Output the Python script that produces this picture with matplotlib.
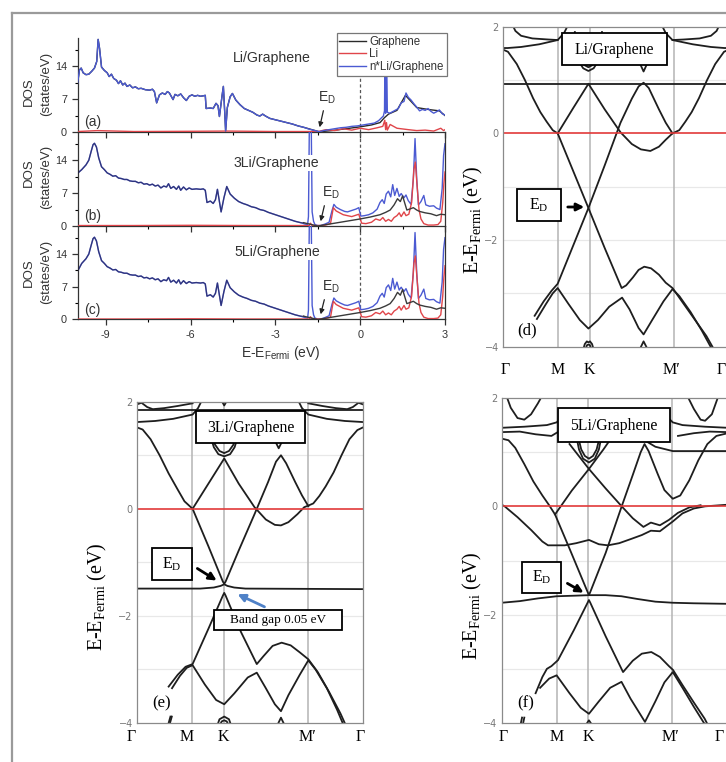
import matplotlib
matplotlib.use("Agg")
import matplotlib.pyplot as plt
from matplotlib.patches import Rectangle, FancyArrowPatch
from matplotlib.lines import Line2D
from matplotlib.transforms import ScaledTranslation, blended_transform_factory

plt.rcParams['mathtext.fontset'] = 'custom'
plt.rcParams['mathtext.rm'] = 'Liberation Serif'
plt.rcParams['mathtext.sf'] = 'Liberation Sans'
plt.rcParams['axes.unicode_minus'] = True

# ======================= DATA =======================
DOS_XTICKS = [-9, -6, -3, 0, 3]
DOS_XMINOR = [-7.5, -4.5, -1.5, 1.5]
DOS_YTICKS = [0, 7, 14]
DOS_YMINOR = [3.5, 10.5, 17.5]
DOS_LEGEND = ["Graphene", "Li", "n*Li/Graphene"]
DOS_TITLES = ["Li/Graphene", "3Li/Graphene", "5Li/Graphene"]
DOS_PANELS = ["(a)", "(b)", "(c)"]

# (a) Li/Graphene
a_E = [-10.0, -9.93, -9.87, -9.8, -9.7, -9.6, -9.5, -9.4, -9.32, -9.27, -9.22, -9.15, -9.05, -8.95, -8.88,
       -8.8, -8.72, -8.62, -8.55, -8.48, -8.4, -8.32, -8.25, -8.15, -8.05, -7.95, -7.85, -7.75, -7.6, -7.45,
       -7.35, -7.28, -7.2, -7.1, -7.0, -6.9, -6.82, -6.75, -6.62, -6.55, -6.45, -6.35, -6.25, -6.15, -6.05,
       -5.95, -5.85, -5.75, -5.65, -5.55, -5.48, -5.45, -5.3, -5.2, -5.1, -5.03, -4.98, -4.88, -4.84, -4.79,
       -4.76, -4.7, -4.6, -4.52, -4.4, -4.25, -4.1, -3.95, -3.8, -3.65, -3.55, -3.45, -3.35, -3.2, -3.0,
       -2.8, -2.6, -2.4, -2.2, -2.0, -1.8, -1.6, -1.45, -1.3, -1.1, -0.9, -0.7, -0.5, -0.3, -0.1,
       0.1, 0.3, 0.5, 0.65, 0.75, 0.82, 0.86, 0.88, 0.9, 0.93, 0.96, 1.05, 1.2, 1.35, 1.45,
       1.55, 1.62, 1.7, 1.8, 1.9, 2.0, 2.1, 2.2, 2.3, 2.4, 2.5, 2.6, 2.7, 2.8, 2.9, 3.0]
a_tot = [10.3, 13.2, 13.6, 12.6, 12.2, 12.3, 12.9, 13.6, 15.0, 19.7, 17.8, 13.8, 13.1, 12.6, 11.8,
         12.3, 11.4, 11.0, 10.3, 10.9, 10.0, 10.4, 9.7, 10.0, 9.4, 9.6, 9.2, 9.3, 9.0, 8.9,
         9.1, 8.6, 6.2, 7.9, 8.3, 8.0, 8.6, 8.3, 6.9, 8.0, 7.7, 8.1, 7.3, 6.7, 7.6,
         7.9, 7.6, 7.8, 7.6, 7.7, 7.8, 5.0, 5.1, 5.0, 6.1, 5.6, 3.3, 8.0, 9.7, 4.0,
         0.2, 5.2, 7.5, 8.2, 6.8, 5.8, 5.0, 4.6, 4.2, 3.6, 3.4, 3.8, 3.4, 2.9, 2.6,
         2.3, 2.0, 1.7, 1.3, 1.0, 0.6, 0.3, 0.05, 0.3, 0.5, 0.7, 0.9, 1.0, 1.2, 1.3,
         1.5, 1.7, 1.9, 2.4, 3.0, 3.4, 4.5, 19.0, 4.0, 19.5, 4.2, 4.0, 4.5, 5.0, 6.2,
         6.5, 8.3, 7.4, 6.8, 6.0, 5.3, 4.5, 4.8, 4.6, 5.0, 4.4, 4.0, 4.3, 4.7, 3.9, 3.6]
a_li_E = [-10.0, -9.3, -8.0, -6.0, -4.7, -3.0, -1.5, -1.2, -0.9, -0.6, -0.3, 0.0, 0.3, 0.6, 0.8,
          0.87, 0.9, 0.93, 0.96, 1.06, 1.3, 1.7, 2.0, 2.3, 2.6, 2.85, 2.95, 3.0]
a_li = [0.1, 0.3, 0.1, 0.15, 0.2, 0.1, 0.1, 0.5, 0.3, 0.7, 0.4, 0.8, 0.5, 0.9, 1.2,
        2.5, 0.5, 2.0, 0.4, 1.6, 0.8, 0.5, 0.3, 0.4, 0.2, 0.8, 0.3, 0.5]
a_gr_E = [-2.0, -1.45, -1.0, -0.5, 0.0, 0.4, 0.7, 0.85, 1.0, 1.3, 1.6, 2.0, 2.4, 2.8, 3.0]
a_gr = [1.0, 0.05, 0.3, 0.7, 1.1, 1.5, 2.0, 3.0, 3.8, 4.6, 7.8, 5.2, 4.8, 4.5, 3.5]

# (b) 3Li/Graphene
b_E = [-10.0, -9.85, -9.7, -9.6, -9.52, -9.45, -9.4, -9.33, -9.25, -9.15,
       -9.05, -8.95, -8.85, -8.75, -8.65, -8.55, -8.45, -8.35, -8.25, -8.15,
       -8.05, -7.95, -7.85, -7.75, -7.65, -7.55, -7.45, -7.35, -7.25, -7.15,
       -7.05, -6.95, -6.85, -6.78, -6.7, -6.6, -6.5, -6.42, -6.35, -6.25,
       -6.15, -6.05, -5.95, -5.8, -5.65, -5.55, -5.48, -5.42, -5.3, -5.2,
       -5.12, -5.05, -4.98, -4.92, -4.82, -4.72, -4.6, -4.45, -4.3, -4.15,
       -4.0, -3.85, -3.7, -3.55, -3.4, -3.25, -3.1, -2.9, -2.7, -2.5,
       -2.3, -2.1, -1.95, -1.86, -1.83, -1.8, -1.73, -1.7, -1.65, -1.6,
       -1.5, -1.4, -1.25, -1.1, -1.0, -0.93, -0.85, -0.7, -0.55, -0.45,
       -0.3, -0.15, -0.05, 0.02, 0.15, 0.3, 0.45, 0.6, 0.7, 0.78,
       0.85, 0.92, 1.0, 1.08, 1.15, 1.22, 1.3, 1.38, 1.45, 1.55,
       1.62, 1.7, 1.8, 1.88, 1.94, 2.0, 2.06, 2.15, 2.25, 2.32,
       2.45, 2.6, 2.7, 2.82, 2.9, 2.95, 3.0]
b_tot = [11.2, 12.0, 13.0, 14.0, 15.8, 17.3, 17.6, 16.8, 14.5, 12.6,
         12.0, 11.3, 11.0, 10.6, 10.7, 10.2, 10.1, 9.9, 9.9, 9.6,
         9.5, 9.5, 9.2, 9.3, 8.9, 9.0, 8.7, 8.9, 8.5, 8.7,
         8.1, 8.5, 8.3, 9.0, 8.0, 8.4, 7.8, 8.5, 7.6, 8.3,
         7.7, 8.1, 7.8, 7.9, 7.8, 7.9, 7.6, 5.0, 5.3, 4.8,
         5.6, 7.8, 5.2, 3.0, 6.0, 8.4, 6.8, 5.9, 5.2, 4.8,
         4.5, 4.1, 3.9, 3.5, 3.3, 2.9, 2.6, 2.2, 1.8, 1.4,
         1.0, 0.7, 0.4, 0.3, 2.0, 20.5, 20.5, 3.0, 1.0, 0.3,
         0.1, 0.1, 0.4, 0.8, 3.2, 4.6, 4.0, 3.5, 3.1, 3.0,
         3.3, 3.6, 3.9, 2.1, 2.2, 2.4, 2.8, 3.6, 5.0, 5.6,
         4.8, 6.8, 7.4, 6.2, 8.8, 6.5, 8.0, 6.3, 6.9, 6.0,
         6.6, 5.4, 4.6, 10.0, 18.6, 10.0, 4.5, 5.2, 6.5, 4.5,
         4.2, 4.3, 3.8, 3.5, 8.0, 15.0, 17.5]
b_li_E = [-10.0, -8.0, -6.0, -4.0, -2.0, -1.8, -1.76, -1.7, -1.3, -1.05,
          -0.95, -0.85, -0.6, -0.3, -0.05, 0.05, 0.2, 0.4, 0.55, 0.7,
          0.8, 0.9, 1.0, 1.1, 1.2, 1.3, 1.38, 1.45, 1.55, 1.62,
          1.72, 1.82, 1.9, 1.95, 2.02, 2.08, 2.15, 2.25, 2.4, 2.6,
          2.75, 2.85, 2.92, 2.96, 3.0]
b_li = [0.1, 0.1, 0.15, 0.1, 0.1, 0.1, 0.6, 0.1, 0.1, 0.5,
        3.9, 3.2, 2.4, 2.0, 2.5, 0.6, 0.5, 0.8, 1.5, 1.2,
        1.8, 1.0, 1.4, 1.0, 1.8, 2.2, 2.8, 2.0, 3.0, 2.2,
        2.5, 5.0, 12.0, 13.6, 8.0, 3.5, 1.5, 0.5, 0.2, 0.2,
        0.3, 1.0, 5.0, 9.0, 11.5]
b_gr_E = [-2.0, -1.5, -1.0, -0.5, 0.0, 0.35, 0.7, 0.9, 1.06, 1.2, 1.32, 1.42,
          1.5, 1.58, 1.65, 1.75, 1.88, 2.0, 2.1, 2.3, 2.5, 2.7, 2.85, 3.0]
b_gr = [0.7, 0.0, 0.5, 1.0, 1.5, 1.9, 2.4, 2.9, 3.4, 4.5, 5.8, 5.2,
        6.4, 4.8, 3.4, 3.6, 3.9, 3.4, 3.1, 2.8, 2.6, 2.2, 2.5, 2.4]

# (c) 5Li/Graphene (nearly identical to (b) in the picture)
c_E = list(b_E)
c_tot = [10.3] + b_tot[1:]
c_li_E = list(b_li_E)
c_li = list(b_li)
c_gr_E = list(b_gr_E)
c_gr = list(b_gr)

# Band structures: k-path fraction (Gamma-M-K-M'-Gamma) and energy (eV)
KPTS = [0.0, 0.244, 0.383, 0.755, 1.0]
KLABELS = ["Γ", "M", "K", "M′", "Γ"]
E_TICKS = [-4, -2, 0, 2]

d_bands = [
    [(0, 0.93), (1, 0.93)],
    [(0, 1.57), (0.022, 1.53), (0.061, 1.3), (0.097, 1.0), (0.133, 0.66), (0.165, 0.4), (0.193, 0.22),
     (0.22, 0.06), (0.242, 0.0), (0.31, -0.7), (0.378, -1.40), (0.45, -2.15), (0.5, -2.65), (0.525, -2.9),
     (0.545, -2.85), (0.575, -2.7), (0.6, -2.56), (0.625, -2.5), (0.655, -2.53), (0.69, -2.65), (0.72, -2.8),
     (0.75, -2.9), (0.8, -3.2), (0.85, -3.5), (0.9, -3.8), (0.94, -4.1)],
    [(0.14, -3.42), (0.18, -3.15), (0.215, -2.95), (0.242, -2.82), (0.378, -1.40), (0.45, -0.6), (0.52, 0.2),
     (0.57, 0.65), (0.6, 0.88), (0.622, 0.95), (0.645, 0.85), (0.69, 0.45), (0.72, 0.2), (0.75, 0.0)],
    [(0.242, 0.0), (0.31, 0.47), (0.378, 0.93), (0.45, 0.45), (0.52, 0.02), (0.57, -0.2), (0.61, -0.3),
     (0.652, -0.33), (0.69, -0.25), (0.72, -0.12), (0.75, 0.0), (0.78, 0.06), (0.807, 0.22), (0.835, 0.4),
     (0.867, 0.66), (0.903, 1.0), (0.939, 1.3), (0.978, 1.53), (1.0, 1.57)],
    [(0.15, -3.48), (0.19, -3.2), (0.22, -3.0), (0.242, -2.9), (0.29, -3.2), (0.34, -3.5), (0.378, -3.66),
     (0.42, -3.5), (0.47, -3.25), (0.527, -3.08), (0.56, -3.3), (0.6, -3.65), (0.622, -3.77), (0.66, -3.5),
     (0.71, -3.15), (0.75, -2.92), (0.78, -3.05), (0.83, -3.35), (0.88, -3.7), (0.925, -4.05)],
    [(0.355, -4.05), (0.362, -3.95), (0.371, -3.9), (0.378, -3.92), (0.385, -3.9), (0.394, -3.95), (0.401, -4.05)],
    [(0.364, -4.05), (0.372, -3.97), (0.378, -3.96), (0.384, -3.97), (0.392, -4.05)],
    [(0.605, -4.05), (0.622, -3.9), (0.64, -4.05)],
    [(0, 1.6), (0.02, 1.6), (0.08, 1.62), (0.16, 1.67), (0.242, 1.75), (0.27, 1.88), (0.29, 2.05)],
    [(0.04, 2.05), (0.055, 1.92), (0.08, 1.83), (0.13, 1.78), (0.2, 1.76), (0.242, 1.75)],
    [(1, 1.6), (0.98, 1.6), (0.92, 1.62), (0.84, 1.67), (0.75, 1.75), (0.72, 1.88), (0.7, 2.05)],
    [(0.96, 2.05), (0.945, 1.92), (0.92, 1.83), (0.87, 1.78), (0.8, 1.76), (0.75, 1.75)],
    [(0.318, 1.9), (0.322, 1.6), (0.335, 1.35), (0.355, 1.22), (0.378, 1.17), (0.401, 1.22), (0.421, 1.35),
     (0.434, 1.6), (0.438, 1.9)],
    [(0.335, 1.6), (0.345, 1.4), (0.36, 1.28), (0.378, 1.24), (0.396, 1.28), (0.411, 1.4), (0.421, 1.6)],
    [(0.595, 1.5), (0.607, 1.3), (0.622, 1.16), (0.637, 1.3), (0.649, 1.5)],
]

e_bands = [
    [(0, -1.49), (0.28, -1.49), (0.34, -1.47), (0.37, -1.44), (0.386, -1.41), (0.4, -1.44), (0.43, -1.47),
     (0.48, -1.49), (1, -1.5)],
    [(0, 1.52), (0.025, 1.48), (0.06, 1.3), (0.1, 1.0), (0.14, 0.66), (0.18, 0.36), (0.21, 0.14), (0.246, 0.0),
     (0.316, -0.7), (0.38, -1.36), (0.386, -1.40), (0.392, -1.36), (0.45, -0.78), (0.52, -0.1), (0.58, 0.5),
     (0.615, 0.88), (0.637, 1.0), (0.66, 0.85), (0.7, 0.5), (0.73, 0.25), (0.758, 0.05)],
    [(0.246, 0.0), (0.316, 0.47), (0.386, 0.94), (0.45, 0.47), (0.52, 0.03), (0.57, -0.2), (0.61, -0.3),
     (0.637, -0.31), (0.67, -0.25), (0.71, -0.1), (0.74, 0.03), (0.758, 0.06), (0.78, 0.1), (0.807, 0.24),
     (0.835, 0.42), (0.87, 0.68), (0.905, 1.0), (0.94, 1.3), (0.975, 1.47), (1.0, 1.52)],
    [(0.14, -3.32), (0.18, -3.1), (0.215, -2.95), (0.246, -2.9), (0.316, -2.24), (0.38, -1.62), (0.386, -1.57),
     (0.392, -1.62), (0.46, -2.3), (0.53, -2.9), (0.56, -2.75), (0.6, -2.56), (0.64, -2.5), (0.68, -2.55),
     (0.72, -2.68), (0.758, -2.81), (0.8, -3.05), (0.85, -3.42), (0.9, -3.82), (0.93, -4.1)],
    [(0.155, -3.35), (0.19, -3.12), (0.22, -2.97), (0.246, -2.92), (0.3, -3.28), (0.35, -3.57), (0.386, -3.65),
     (0.43, -3.45), (0.49, -3.15), (0.53, -3.06), (0.57, -3.35), (0.61, -3.65), (0.637, -3.78), (0.67, -3.48),
     (0.72, -3.1), (0.758, -2.83), (0.79, -3.0), (0.84, -3.35), (0.885, -3.75), (0.915, -4.05)],
    [(0.355, -4.05), (0.365, -3.93), (0.386, -3.88), (0.407, -3.93), (0.417, -4.05)],
    [(0.365, -4.05), (0.375, -3.97), (0.386, -3.95), (0.397, -3.97), (0.407, -4.05)],
    [(0.62, -4.05), (0.637, -3.9), (0.654, -4.05)],
    [(0.14, -4.0), (0.148, -3.88)],
    [(0.146, -4.0), (0.154, -3.88)],
    [(0, 1.84), (1, 1.84)],
    [(0, 1.62), (0.08, 1.64), (0.16, 1.68), (0.246, 1.76), (0.27, 1.88), (0.29, 2.05)],
    [(0, 1.95), (0.02, 1.98), (0.045, 1.9), (0.07, 1.86), (0.12, 1.88), (0.18, 1.92), (0.246, 1.97)],
    [(1, 1.62), (0.92, 1.64), (0.84, 1.68), (0.758, 1.76), (0.73, 1.88), (0.71, 2.05)],
    [(1, 1.95), (0.98, 1.98), (0.955, 1.9), (0.93, 1.86), (0.88, 1.88), (0.82, 1.92), (0.758, 1.97)],
    [(0.315, 1.75), (0.322, 1.4), (0.34, 1.15), (0.36, 1.02), (0.386, 0.98), (0.412, 1.02), (0.432, 1.15),
     (0.45, 1.4), (0.457, 1.75)],
    [(0.33, 1.45), (0.345, 1.2), (0.365, 1.08), (0.386, 1.04), (0.407, 1.08), (0.427, 1.2), (0.442, 1.45)],
    [(0.6, 1.45), (0.613, 1.25), (0.627, 1.13), (0.641, 1.25), (0.654, 1.45)],
    [(0.37, 2.05), (0.386, 1.93), (0.402, 2.05)],
]

f_bands = [
    [(0, -1.78), (0.08, -1.75), (0.16, -1.7), (0.243, -1.66), (0.32, -1.65), (0.386, -1.64), (0.46, -1.64),
     (0.53, -1.66), (0.6, -1.71), (0.68, -1.76), (0.757, -1.78), (0.85, -1.79), (1, -1.8)],
    [(0, 0.03), (0.013, 0.0), (0.07, -0.2), (0.131, -0.44), (0.18, -0.65), (0.205, -0.72), (0.279, -0.72),
     (0.33, -0.68), (0.386, -0.62), (0.43, -0.7), (0.47, -0.72), (0.52, -0.68), (0.574, -0.6), (0.62, -0.53),
     (0.66, -0.45), (0.7, -0.46), (0.757, -0.28), (0.8, -0.13), (0.85, -0.04), (0.9, 0.0), (1, 0.03)],
    [(0, 1.25), (0.03, 1.22), (0.06, 1.08), (0.1, 0.78), (0.14, 0.46), (0.18, 0.2), (0.21, 0.02), (0.236, -0.15),
     (0.3, -0.78), (0.38, -1.58), (0.386, -1.64), (0.392, -1.58), (0.46, -0.86), (0.531, 0.0), (0.58, 0.58),
     (0.615, 1.0), (0.632, 1.15), (0.65, 1.02), (0.69, 0.6), (0.72, 0.3), (0.757, 0.14), (0.79, 0.2),
     (0.83, 0.48), (0.87, 0.85), (0.91, 1.15), (0.95, 1.3), (1, 1.35)],
    [(0.236, -0.15), (0.31, 0.29), (0.386, 0.69), (0.45, 1.05), (0.5, 1.35), (0.55, 1.65)],
    [(0.3, 1.15), (0.386, 0.69), (0.46, 0.33), (0.531, 0.0), (0.58, -0.22), (0.627, -0.38), (0.66, -0.3),
     (0.7, -0.35), (0.74, -0.25), (0.78, -0.12), (0.83, -0.02), (0.88, 0.02)],
    [(0.33, 1.3), (0.342, 1.05), (0.36, 0.88), (0.386, 0.81), (0.412, 0.88), (0.43, 1.05), (0.442, 1.3)],
    [(0.34, 1.25), (0.352, 1.05), (0.368, 0.93), (0.386, 0.88), (0.404, 0.93), (0.42, 1.05), (0.432, 1.25)],
    [(0.15, -3.45), (0.18, -3.15), (0.2, -3.0), (0.22, -2.95), (0.249, -2.84), (0.32, -2.28), (0.38, -1.78),
     (0.386, -1.73), (0.392, -1.78), (0.46, -2.4), (0.537, -3.06), (0.58, -2.85), (0.62, -2.72), (0.662, -2.69),
     (0.7, -2.78), (0.74, -2.95), (0.758, -3.02), (0.8, -3.3), (0.85, -3.62), (0.898, -3.92), (0.92, -4.1)],
    [(0.17, -3.35), (0.21, -3.18), (0.243, -3.12), (0.3, -3.45), (0.35, -3.72), (0.386, -3.83), (0.43, -3.6),
     (0.48, -3.35), (0.53, -3.24), (0.57, -3.55), (0.634, -3.98), (0.68, -3.6), (0.72, -3.25), (0.757, -3.06),
     (0.8, -3.35), (0.85, -3.7), (0.892, -3.98), (0.91, -4.1)],
    [(0.37, -4.05), (0.386, -3.95), (0.402, -4.05)],
    [(0.085, -4.0), (0.09, -3.9)],
    [(0.095, -4.0), (0.1, -3.9)],
    [(0.6, 1.3), (0.68, 1.1), (0.757, 1.02), (0.85, 1.02), (1, 1.02)],
    [(0, 1.45), (0.1, 1.47), (0.2, 1.5), (0.243, 1.55), (0.28, 1.7)],
    [(0, 1.37), (0.08, 1.38), (0.15, 1.33), (0.22, 1.3), (0.26, 1.4)],
    [(0.02, 2.05), (0.04, 1.82), (0.07, 1.63), (0.1, 1.6), (0.13, 1.7), (0.16, 1.9), (0.18, 2.05)],
    [(1, 1.45), (0.9, 1.47), (0.8, 1.5), (0.757, 1.55), (0.72, 1.7)],
    [(1, 1.37), (0.92, 1.38), (0.85, 1.35), (0.78, 1.3)],
    [(0.82, 2.05), (0.85, 1.8), (0.88, 1.6), (0.9, 1.58), (0.93, 1.7), (0.96, 2.05)],
]

BAND_TITLES = ["Li/Graphene", "3Li/Graphene", "5Li/Graphene"]

# ======================= FIGURE =======================
W, H = 726, 762
fig = plt.figure(figsize=(W / 100, H / 100), dpi=100)
fig.patch.set_facecolor("white")


def P(x, y):
    return (x / W, 1 - y / H)


def ax_px(l, t, r, b):
    return fig.add_axes([l / W, 1 - b / H, (r - l) / W, (b - t) / H])


SANS = "Liberation Sans"
SERIF = "Liberation Serif"
BLUE = "#4b5ad2"
RED = "#e0454a"
BLACK = "#2a2a2a"

# figure border
fig.add_artist(Line2D([12 / W, 12 / W], [0, 1 - 13 / H], transform=fig.transFigure, color="#9a9a9a", lw=1.6))
fig.add_artist(Line2D([12 / W, 1], [1 - 13 / H, 1 - 13 / H], transform=fig.transFigure, color="#9a9a9a", lw=1.6))

# ---------------- DOS panels ----------------
dos_rows = [(38, 132), (132, 226), (226, 319.5)]
dos_data = [
    (a_E, a_tot, a_li_E, a_li, a_gr_E, a_gr),
    (b_E, b_tot, b_li_E, b_li, b_gr_E, b_gr),
    (c_E, c_tot, c_li_E, c_li, c_gr_E, c_gr),
]
for i, ((t, b), (E, tot, liE, li, grE, gr)) in enumerate(zip(dos_rows, dos_data)):
    ax = ax_px(77.5, t, 445, b)
    ax.patch.set_alpha(0)
    # graphene: same as total below -2 eV, own values above
    gE_left = [e for e in E if e < grE[0]]
    gV_left = [v for e, v in zip(E, tot) if e < grE[0]]
    if i == 0:
        ax.plot(gE_left + grE, gV_left + gr, color=BLACK, lw=1.0, zorder=2)
        ax.plot(liE, li, color=RED, lw=1.0, zorder=3)
        ax.plot(E, tot, color=BLUE, lw=1.0, zorder=4)
    else:
        ax.plot(E, tot, color=BLUE, lw=1.0, zorder=2)
        ax.plot(liE, li, color=RED, lw=1.0, zorder=3)
        ax.plot(gE_left + grE[:1], gV_left + gr[:1], color="#1c1c48", lw=1.0, alpha=0.6, zorder=4)
        ax.plot(grE, gr, color="#3a3a3a", lw=1.0, zorder=4)
    ax.axvline(0, color="#555555", lw=0.9, ls=(0, (2.5, 2)), zorder=1)
    ax.set_xlim(-10, 3)
    ax.set_ylim(0, 20)
    ax.set_xticks(DOS_XTICKS)
    ax.set_xticks(DOS_XMINOR, minor=True)
    ax.set_yticks(DOS_YTICKS)
    ax.set_yticks(DOS_YMINOR, minor=True)
    ax.tick_params(axis="both", which="major", direction="out", length=4, width=0.9, labelsize=7.8,
                   colors="#333333")
    ax.tick_params(axis="both", which="minor", direction="out", length=2.5, width=0.8)
    for lab in ax.get_yticklabels() + ax.get_xticklabels():
        lab.set_fontfamily(SANS)
    if i < 2:
        ax.tick_params(axis="x", labelbottom=False)
    else:
        ax.set_xticklabels(["-9", "-6", "-3", "0", "3"])
    ax.spines["top"].set_visible(False)
    if i == 0:
        ax.spines["right"].set_visible(False)
    for s in ax.spines.values():
        s.set_color("#333333")
        s.set_linewidth(0.9)
    ax.text(-9.75, 1.2, DOS_PANELS[i], fontsize=10, family=SANS, color="#333333")

# DOS texts
fig.text(*P(272, 58), DOS_TITLES[0], fontsize=10.2, family=SANS, ha="center", va="center", color="#333333")
fig.text(*P(276, 163), DOS_TITLES[1], fontsize=10.2, family=SANS, ha="center", va="center", color="#333333",
         bbox=dict(fc="white", ec="none", pad=0.5))
fig.text(*P(277, 252), DOS_TITLES[2], fontsize=10.2, family=SANS, ha="center", va="center", color="#333333",
         bbox=dict(fc="white", ec="none", pad=0.5))
for (yd, ys) in [(92, 84), (173, 177), (273, 272)]:
    fig.text(*P(29, yd), "DOS", rotation=90, fontsize=9.5, family=SANS, ha="center", va="center", color="#333333")
    fig.text(*P(46, ys), "(states/eV)", rotation=90, fontsize=9.5, family=SANS, ha="center", va="center",
             color="#333333")
fig.text(*P(281, 353), r"E-E$_{\mathsf{Fermi}}$ (eV)", fontsize=10, family=SANS, ha="center", va="center",
         color="#333333")
for (tx, ty, ax0, ay0, ax1, ay1) in [(327, 98, 324, 108, 319, 130), (331, 193, 325, 203, 320, 224),
                                      (331, 287, 325, 297, 320, 317)]:
    fig.text(*P(tx, ty), r"E$_{\mathsf{D}}$", fontsize=10, family=SANS, ha="center", va="center", color="#333333")
    fig.add_artist(FancyArrowPatch(P(ax0, ay0), P(ax1, ay1), transform=fig.transFigure, arrowstyle="-|>",
                                   mutation_scale=7, lw=0.9, color="#222222"))

# legend
handles = [Line2D([], [], color=BLACK, lw=1.0), Line2D([], [], color=RED, lw=1.0),
           Line2D([], [], color=BLUE, lw=1.0)]
leg = fig.legend(handles, DOS_LEGEND, loc="upper right", bbox_to_anchor=P(446.7, 33), frameon=True,
                 fancybox=False, framealpha=1, edgecolor="#777777", prop={"family": SANS, "size": 8.3},
                 handlelength=2.3, handletextpad=0.3, labelspacing=0.05, borderpad=0.25, borderaxespad=0)
leg.get_frame().set_linewidth(0.9)
for txt in leg.get_texts():
    txt.set_color("#333333")

# ---------------- Band panels ----------------
band_specs = [
    # axes (l, t, r, b), bands, label offset below axis (px), x offsets of the k labels (px)
    ((503, 26.7, 729, 346.7), d_bands, 23, [2, 0, 0, -2, -8]),
    ((137, 401.7, 363, 723), e_bands, 14, [-6, -5, 0, 0, -3]),
    ((501.7, 398, 727.7, 723), f_bands, 14, [2, 0, 0, -2, -8]),
]
for (l, t, r, b), bands, ydown, xoffs in band_specs:
    ax = ax_px(l, t, r, b)
    ax.set_xlim(0, 1)
    ax.set_ylim(-4, 2)
    for kx in KPTS[1:-1]:
        ax.axvline(kx, color="#b4b4b4", lw=1.1, zorder=1)
    for ey in [-3, -2, -1, 1]:
        ax.axhline(ey, color="#e8e8e8", lw=0.9, zorder=0.5)
    for band in bands:
        ks = [p[0] for p in band]
        es = [p[1] for p in band]
        ax.plot(ks, es, color="#1e1e1e", lw=1.3, zorder=2, solid_joinstyle="round")
    ax.axhline(0, color="#e23a3a", lw=1.2, zorder=2.5)
    ax.set_xticks(KPTS)
    ax.set_xticklabels([])
    ax.tick_params(axis="x", length=0)
    base = blended_transform_factory(ax.transData, ax.transAxes)
    for kx, lab, dx in zip(KPTS, KLABELS, xoffs):
        tr = base + ScaledTranslation(dx / 100, -ydown / 100, fig.dpi_scale_trans)
        ax.text(kx, 0, lab, transform=tr, fontsize=11.5, family=SERIF, ha="center", va="center",
                clip_on=False)
    ax.set_yticks(E_TICKS)
    ax.set_yticklabels(["\u22124", "\u22122", "0", "2"], fontsize=7, color="#777777")
    ax.tick_params(axis="y", length=0, pad=3)
    for s in ax.spines.values():
        s.set_color("#8a8a8a")
        s.set_linewidth(0.9)


def box(l, t, r, b, lw=1.3):
    fig.add_artist(Rectangle(P(l, b), (r - l) / W, (b - t) / H, transform=fig.transFigure, fc="white",
                             ec="black", lw=lw, zorder=5))


# title boxes
for (l, t, r, b), title in zip([(562, 33, 667, 65), (196, 411, 305, 443), (558, 408, 670, 442)], BAND_TITLES):
    box(l, t, r, b)
    fig.text(*P((l + r) / 2, (t + b) / 2 + 1), title, fontsize=11.3, family=SERIF, ha="center", va="center",
             zorder=6)

# E_D boxes
for (l, t, r, b) in [(517, 189, 561, 221), (152, 548, 192, 580), (522, 562, 561, 593)]:
    box(l, t, r, b)
    fig.text(*P((l + r) / 2, (t + b) / 2), r"E$_{\mathrm{D}}$", fontsize=11.5, family=SERIF, ha="center",
             va="center", zorder=6)

# band gap box
box(214, 610, 342, 630)
fig.text(*P(278, 620), "Band gap 0.05 eV", fontsize=9.5, family=SERIF, ha="center", va="center", zorder=6)

# arrows
for (x0, y0, x1, y1, col) in [(565, 207, 587, 207, "black"), (195, 567, 219, 582, "black"),
                              (565, 582, 586, 594, "black"), (267, 608, 235, 593, "#4f81c7")]:
    fig.add_artist(FancyArrowPatch(P(x0, y0), P(x1, y1), transform=fig.transFigure, arrowstyle="-|>",
                                   mutation_scale=11, lw=2.0, color=col, zorder=6))

# panel labels
for (x, y, s) in [(527, 330, "(d)"), (162, 703, "(e)"), (526, 703, "(f)")]:
    fig.text(*P(x, y), s, fontsize=12, family=SERIF, ha="center", va="center", zorder=6)

# y labels
for (x, y) in [(473, 220), (97, 597), (472, 606)]:
    fig.text(*P(x, y), r"E-E$_{\mathrm{Fermi}}$ (eV)", rotation=90, fontsize=14.5, family=SERIF, ha="center",
             va="center")

fig.savefig("out.png", dpi=100, facecolor="white")
